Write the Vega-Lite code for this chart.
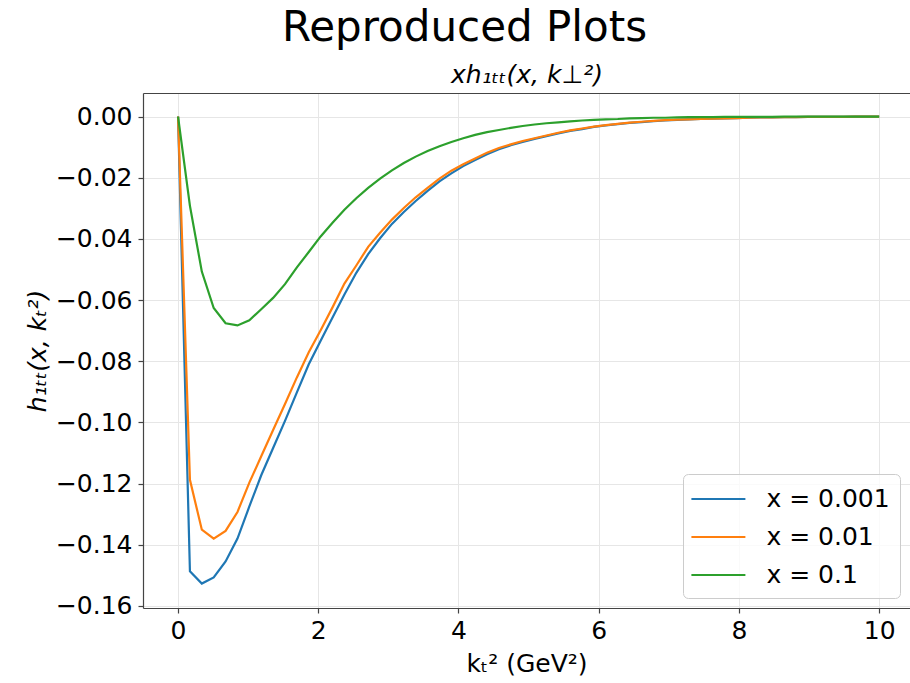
{
  "$schema": "https://vega.github.io/schema/vega-lite/v6.json",
  "width": 767,
  "height": 515,
  "autosize": {"type": "none"},
  "padding": {"left": 143, "top": 93, "right": 0, "bottom": 75},
  "background": "white",
  "title": {"text": "Reproduced Plots", "fontSize": 42, "fontWeight": "normal", "font": "DejaVu Sans", "color": "black", "anchor": "middle", "dx": -62, "offset": 12},
  "config": {
    "view": {"stroke": null},
    "font": "DejaVu Sans",
    "axis": {"labelFont": "DejaVu Sans", "titleFont": "DejaVu Sans", "labelColor": "black", "titleColor": "black", "titleFontWeight": "normal", "domainColor": "#444", "tickColor": "#444", "gridColor": "#e6e6e6", "gridWidth": 1, "domainWidth": 1.2, "tickWidth": 1.2}
  },
  "data": {"values": [
    {"k":0,"h":0,"s":"x = 0.001"},{"k":0.1695,"h":-0.1487,"s":"x = 0.001"},{"k":0.339,"h":-0.1527,"s":"x = 0.001"},{"k":0.5085,"h":-0.1507,"s":"x = 0.001"},{"k":0.678,"h":-0.1455,"s":"x = 0.001"},{"k":0.8475,"h":-0.138,"s":"x = 0.001"},{"k":1.0169,"h":-0.1275,"s":"x = 0.001"},{"k":1.1864,"h":-0.1173,"s":"x = 0.001"},{"k":1.3559,"h":-0.1084,"s":"x = 0.001"},{"k":1.5254,"h":-0.0995,"s":"x = 0.001"},{"k":1.6949,"h":-0.0902,"s":"x = 0.001"},{"k":1.8644,"h":-0.081,"s":"x = 0.001"},{"k":2.0339,"h":-0.0733,"s":"x = 0.001"},{"k":2.2034,"h":-0.0657,"s":"x = 0.001"},{"k":2.3729,"h":-0.0582,"s":"x = 0.001"},{"k":2.5424,"h":-0.0511,"s":"x = 0.001"},{"k":2.7119,"h":-0.045,"s":"x = 0.001"},{"k":2.8814,"h":-0.0398,"s":"x = 0.001"},{"k":3.0508,"h":-0.0351,"s":"x = 0.001"},{"k":3.2203,"h":-0.0312,"s":"x = 0.001"},{"k":3.3898,"h":-0.0276,"s":"x = 0.001"},{"k":3.5593,"h":-0.0243,"s":"x = 0.001"},{"k":3.7288,"h":-0.0212,"s":"x = 0.001"},{"k":3.8983,"h":-0.0186,"s":"x = 0.001"},{"k":4.0678,"h":-0.0162,"s":"x = 0.001"},{"k":4.2373,"h":-0.0142,"s":"x = 0.001"},{"k":4.4068,"h":-0.0123,"s":"x = 0.001"},{"k":4.5763,"h":-0.0107,"s":"x = 0.001"},{"k":4.7458,"h":-0.0094,"s":"x = 0.001"},{"k":4.9153,"h":-0.0083,"s":"x = 0.001"},{"k":5.0847,"h":-0.0073,"s":"x = 0.001"},{"k":5.2542,"h":-0.0064,"s":"x = 0.001"},{"k":5.4237,"h":-0.0055,"s":"x = 0.001"},{"k":5.5932,"h":-0.0047,"s":"x = 0.001"},{"k":5.7627,"h":-0.0041,"s":"x = 0.001"},{"k":5.9322,"h":-0.0034,"s":"x = 0.001"},{"k":6.1017,"h":-0.0029,"s":"x = 0.001"},{"k":6.2712,"h":-0.0025,"s":"x = 0.001"},{"k":6.4407,"h":-0.0021,"s":"x = 0.001"},{"k":6.6102,"h":-0.0018,"s":"x = 0.001"},{"k":6.7797,"h":-0.0015,"s":"x = 0.001"},{"k":6.9492,"h":-0.0013,"s":"x = 0.001"},{"k":7.1186,"h":-0.0011,"s":"x = 0.001"},{"k":7.2881,"h":-0.0009,"s":"x = 0.001"},{"k":7.4576,"h":-0.0008,"s":"x = 0.001"},{"k":7.6271,"h":-0.0007,"s":"x = 0.001"},{"k":7.7966,"h":-0.0006,"s":"x = 0.001"},{"k":7.9661,"h":-0.0005,"s":"x = 0.001"},{"k":8.1356,"h":-0.0004,"s":"x = 0.001"},{"k":8.3051,"h":-0.0003,"s":"x = 0.001"},{"k":8.4746,"h":-0.0003,"s":"x = 0.001"},{"k":8.6441,"h":-0.0002,"s":"x = 0.001"},{"k":8.8136,"h":-0.0002,"s":"x = 0.001"},{"k":8.9831,"h":-0.0001,"s":"x = 0.001"},{"k":9.1525,"h":-0.0001,"s":"x = 0.001"},{"k":9.322,"h":-0.0001,"s":"x = 0.001"},{"k":9.4915,"h":-0.0001,"s":"x = 0.001"},{"k":9.661,"h":0,"s":"x = 0.001"},{"k":9.8305,"h":0,"s":"x = 0.001"},{"k":10,"h":0,"s":"x = 0.001"},
    {"k":0,"h":0,"s":"x = 0.01"},{"k":0.1695,"h":-0.1188,"s":"x = 0.01"},{"k":0.339,"h":-0.1351,"s":"x = 0.01"},{"k":0.5085,"h":-0.138,"s":"x = 0.01"},{"k":0.678,"h":-0.1355,"s":"x = 0.01"},{"k":0.8475,"h":-0.1293,"s":"x = 0.01"},{"k":1.0169,"h":-0.1197,"s":"x = 0.01"},{"k":1.1864,"h":-0.1111,"s":"x = 0.01"},{"k":1.3559,"h":-0.1025,"s":"x = 0.01"},{"k":1.5254,"h":-0.094,"s":"x = 0.01"},{"k":1.6949,"h":-0.0853,"s":"x = 0.01"},{"k":1.8644,"h":-0.0771,"s":"x = 0.01"},{"k":2.0339,"h":-0.0699,"s":"x = 0.01"},{"k":2.2034,"h":-0.0624,"s":"x = 0.01"},{"k":2.3729,"h":-0.0546,"s":"x = 0.01"},{"k":2.5424,"h":-0.0487,"s":"x = 0.01"},{"k":2.7119,"h":-0.0426,"s":"x = 0.01"},{"k":2.8814,"h":-0.038,"s":"x = 0.01"},{"k":3.0508,"h":-0.0337,"s":"x = 0.01"},{"k":3.2203,"h":-0.0299,"s":"x = 0.01"},{"k":3.3898,"h":-0.0264,"s":"x = 0.01"},{"k":3.5593,"h":-0.0233,"s":"x = 0.01"},{"k":3.7288,"h":-0.0203,"s":"x = 0.01"},{"k":3.8983,"h":-0.0177,"s":"x = 0.01"},{"k":4.0678,"h":-0.0156,"s":"x = 0.01"},{"k":4.2373,"h":-0.0137,"s":"x = 0.01"},{"k":4.4068,"h":-0.0118,"s":"x = 0.01"},{"k":4.5763,"h":-0.0103,"s":"x = 0.01"},{"k":4.7458,"h":-0.0091,"s":"x = 0.01"},{"k":4.9153,"h":-0.008,"s":"x = 0.01"},{"k":5.0847,"h":-0.0071,"s":"x = 0.01"},{"k":5.2542,"h":-0.0062,"s":"x = 0.01"},{"k":5.4237,"h":-0.0053,"s":"x = 0.01"},{"k":5.5932,"h":-0.0045,"s":"x = 0.01"},{"k":5.7627,"h":-0.0039,"s":"x = 0.01"},{"k":5.9322,"h":-0.0033,"s":"x = 0.01"},{"k":6.1017,"h":-0.0028,"s":"x = 0.01"},{"k":6.2712,"h":-0.0024,"s":"x = 0.01"},{"k":6.4407,"h":-0.002,"s":"x = 0.01"},{"k":6.6102,"h":-0.0017,"s":"x = 0.01"},{"k":6.7797,"h":-0.0014,"s":"x = 0.01"},{"k":6.9492,"h":-0.0012,"s":"x = 0.01"},{"k":7.1186,"h":-0.001,"s":"x = 0.01"},{"k":7.2881,"h":-0.0009,"s":"x = 0.01"},{"k":7.4576,"h":-0.0008,"s":"x = 0.01"},{"k":7.6271,"h":-0.0007,"s":"x = 0.01"},{"k":7.7966,"h":-0.0006,"s":"x = 0.01"},{"k":7.9661,"h":-0.0005,"s":"x = 0.01"},{"k":8.1356,"h":-0.0004,"s":"x = 0.01"},{"k":8.3051,"h":-0.0003,"s":"x = 0.01"},{"k":8.4746,"h":-0.0003,"s":"x = 0.01"},{"k":8.6441,"h":-0.0002,"s":"x = 0.01"},{"k":8.8136,"h":-0.0002,"s":"x = 0.01"},{"k":8.9831,"h":-0.0001,"s":"x = 0.01"},{"k":9.1525,"h":-0.0001,"s":"x = 0.01"},{"k":9.322,"h":-0.0001,"s":"x = 0.01"},{"k":9.4915,"h":-0.0001,"s":"x = 0.01"},{"k":9.661,"h":0,"s":"x = 0.01"},{"k":9.8305,"h":0,"s":"x = 0.01"},{"k":10,"h":0,"s":"x = 0.01"},
    {"k":0,"h":0,"s":"x = 0.1"},{"k":0.1695,"h":-0.0292,"s":"x = 0.1"},{"k":0.339,"h":-0.0507,"s":"x = 0.1"},{"k":0.5085,"h":-0.0626,"s":"x = 0.1"},{"k":0.678,"h":-0.0676,"s":"x = 0.1"},{"k":0.8475,"h":-0.0683,"s":"x = 0.1"},{"k":1.0169,"h":-0.0666,"s":"x = 0.1"},{"k":1.1864,"h":-0.063,"s":"x = 0.1"},{"k":1.3559,"h":-0.0593,"s":"x = 0.1"},{"k":1.5254,"h":-0.0548,"s":"x = 0.1"},{"k":1.6949,"h":-0.0493,"s":"x = 0.1"},{"k":1.8644,"h":-0.0443,"s":"x = 0.1"},{"k":2.0339,"h":-0.0392,"s":"x = 0.1"},{"k":2.2034,"h":-0.0347,"s":"x = 0.1"},{"k":2.3729,"h":-0.0305,"s":"x = 0.1"},{"k":2.5424,"h":-0.0267,"s":"x = 0.1"},{"k":2.7119,"h":-0.0233,"s":"x = 0.1"},{"k":2.8814,"h":-0.0203,"s":"x = 0.1"},{"k":3.0508,"h":-0.0176,"s":"x = 0.1"},{"k":3.2203,"h":-0.0152,"s":"x = 0.1"},{"k":3.3898,"h":-0.0131,"s":"x = 0.1"},{"k":3.5593,"h":-0.0113,"s":"x = 0.1"},{"k":3.7288,"h":-0.0097,"s":"x = 0.1"},{"k":3.8983,"h":-0.0083,"s":"x = 0.1"},{"k":4.0678,"h":-0.0071,"s":"x = 0.1"},{"k":4.2373,"h":-0.006,"s":"x = 0.1"},{"k":4.4068,"h":-0.0051,"s":"x = 0.1"},{"k":4.5763,"h":-0.0044,"s":"x = 0.1"},{"k":4.7458,"h":-0.0037,"s":"x = 0.1"},{"k":4.9153,"h":-0.0031,"s":"x = 0.1"},{"k":5.0847,"h":-0.0026,"s":"x = 0.1"},{"k":5.2542,"h":-0.0022,"s":"x = 0.1"},{"k":5.4237,"h":-0.0019,"s":"x = 0.1"},{"k":5.5932,"h":-0.0016,"s":"x = 0.1"},{"k":5.7627,"h":-0.0013,"s":"x = 0.1"},{"k":5.9322,"h":-0.0011,"s":"x = 0.1"},{"k":6.1017,"h":-0.0009,"s":"x = 0.1"},{"k":6.2712,"h":-0.0008,"s":"x = 0.1"},{"k":6.4407,"h":-0.0006,"s":"x = 0.1"},{"k":6.6102,"h":-0.0005,"s":"x = 0.1"},{"k":6.7797,"h":-0.0004,"s":"x = 0.1"},{"k":6.9492,"h":-0.0004,"s":"x = 0.1"},{"k":7.1186,"h":-0.0003,"s":"x = 0.1"},{"k":7.2881,"h":-0.0002,"s":"x = 0.1"},{"k":7.4576,"h":-0.0002,"s":"x = 0.1"},{"k":7.6271,"h":-0.0002,"s":"x = 0.1"},{"k":7.7966,"h":-0.0001,"s":"x = 0.1"},{"k":7.9661,"h":-0.0001,"s":"x = 0.1"},{"k":8.1356,"h":-0.0001,"s":"x = 0.1"},{"k":8.3051,"h":-0.0001,"s":"x = 0.1"},{"k":8.4746,"h":-0.0001,"s":"x = 0.1"},{"k":8.6441,"h":0,"s":"x = 0.1"},{"k":8.8136,"h":0,"s":"x = 0.1"},{"k":8.9831,"h":0,"s":"x = 0.1"},{"k":9.1525,"h":0,"s":"x = 0.1"},{"k":9.322,"h":0,"s":"x = 0.1"},{"k":9.4915,"h":0,"s":"x = 0.1"},{"k":9.661,"h":0,"s":"x = 0.1"},{"k":9.8305,"h":0,"s":"x = 0.1"},{"k":10,"h":0,"s":"x = 0.1"}
  ]},
  "layer": [
    {
      "mark": {"type": "line", "strokeWidth": 2.2, "clip": true},
      "encoding": {
        "x": {"field": "k", "type": "quantitative", "scale": {"domain": [-0.5, 10.44], "nice": false, "zero": false},
          "axis": {"orient": "bottom", "values": [0, 2, 4, 6, 8, 10], "format": "d", "labelFontSize": 25, "labelPadding": 5, "tickSize": 5, "grid": true, "title": "kₜ² (GeV²)", "titleFontSize": 25, "titlePadding": 8}},
        "y": {"field": "h", "type": "quantitative", "scale": {"domain": [-0.1607, 0.0077], "nice": false, "zero": false},
          "axis": {"orient": "left", "values": [-0.16, -0.14, -0.12, -0.1, -0.08, -0.06, -0.04, -0.02, 0], "format": ".2f", "labelFontSize": 25, "labelPadding": 6, "tickSize": 5, "grid": true, "title": "h₁ₜₜ(x, kₜ²)", "titleFontSize": 25, "titleFontStyle": "italic", "titlePadding": 5}},
        "color": {"field": "s", "type": "nominal",
          "scale": {"domain": ["x = 0.001", "x = 0.01", "x = 0.1"], "range": ["#1f77b4", "#ff7f0e", "#2ca02c"]},
          "legend": {"title": null, "orient": "bottom-right", "offset": 10, "symbolType": "M-2,0L2,0", "symbolSize": 729, "symbolStrokeWidth": 2.2, "symbolOffset": 10.4, "labelFontSize": 25, "labelFont": "DejaVu Sans", "labelColor": "black", "labelOffset": 33, "rowPadding": 10, "padding": 10, "fillColor": "rgba(255,255,255,0.8)", "strokeColor": "#cccccc", "cornerRadius": 5}}
      }
    },
    {
      "mark": {"type": "point", "opacity": 0},
      "encoding": {
        "x": {"field": "k", "type": "quantitative", "scale": {"domain": [-0.5, 10.44], "nice": false, "zero": false},
          "axis": {"orient": "top", "ticks": false, "labels": false, "grid": false, "domain": true, "title": "xh₁ₜₜ(x, k⊥²)", "titleFontSize": 25, "titleFontStyle": "italic", "titlePadding": 6}}
      }
    }
  ],
  "resolve": {"axis": {"x": "independent"}}
}
